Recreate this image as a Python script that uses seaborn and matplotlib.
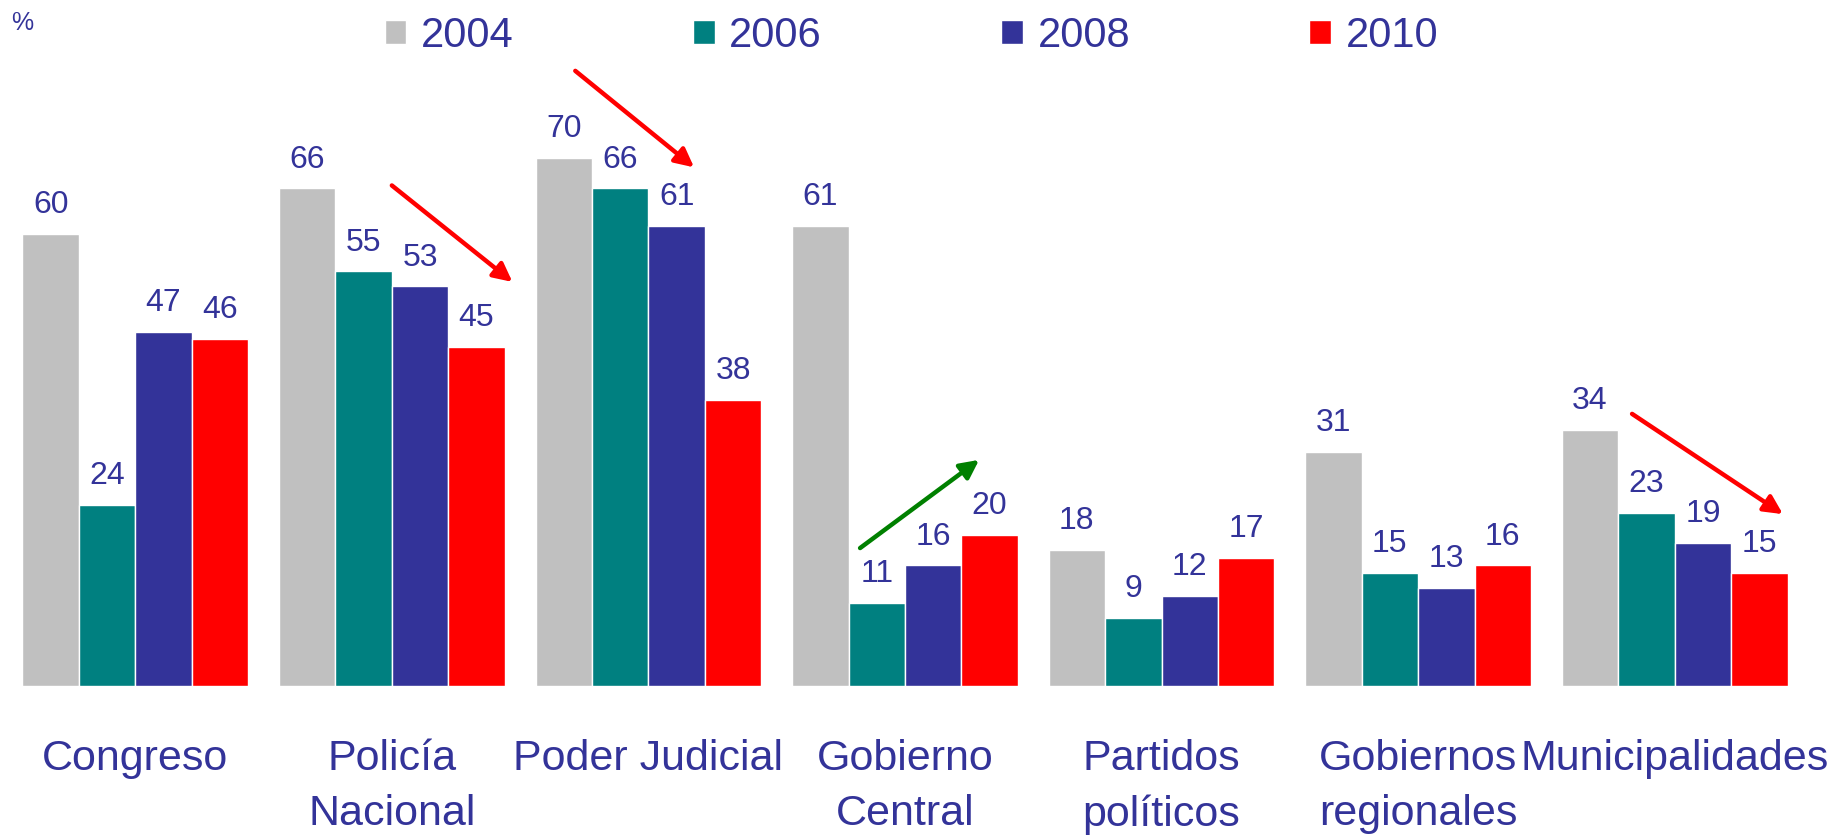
import matplotlib
matplotlib.use("Agg")
import matplotlib.pyplot as plt
import seaborn as sns
import pandas as pd

# data
categories = ["Congreso", "Policía\nNacional", "Poder Judicial", "Gobierno\nCentral",
              "Partidos\npolíticos", "Gobiernos\nregionales", "Municipalidades"]
years = ["2004", "2006", "2008", "2010"]
v2004 = [60, 66, 70, 61, 18, 31, 34]
v2006 = [24, 55, 66, 11, 9, 15, 23]
v2008 = [47, 53, 61, 16, 12, 13, 19]
v2010 = [46, 45, 38, 20, 17, 16, 15]
colors = ["#C0C0C0", "#008080", "#333399", "#FF0000"]

# trend arrows (data coords: x0, y0, x1, y1, colour)
trend_arrows = [
    (1.00, 66.4, 1.47, 53.6, "#FF0000"),
    (1.715, 81.6, 2.178, 68.8, "#FF0000"),
    (2.825, 18.3, 3.289, 30.0, "#008000"),
    (5.834, 36.1, 6.422, 22.8, "#FF0000"),
]

text_color = "#333399"

rows = []
for yr, vals in zip(years, [v2004, v2006, v2008, v2010]):
    for cat, v in zip(categories, vals):
        rows.append({"cat": cat, "year": yr, "value": v})
df = pd.DataFrame(rows)

sns.set_style("white")
plt.rcParams["font.family"] = ["Liberation Sans", "DejaVu Sans"]

fig = plt.figure(figsize=(18.45, 8.36), dpi=100)
ax = fig.add_axes([0.0038, 0.1794, 0.9734, 0.7665])

sns.barplot(data=df, x="cat", y="value", hue="year", palette=colors, saturation=1,
            width=0.88, edgecolor="white", linewidth=1, ax=ax, errorbar=None)

ax.set_ylim(0, 85)
ax.set_xlim(-0.5, 6.5)
ax.set_xlabel("")
ax.set_ylabel("")
ax.set_yticks([])
sns.despine(ax=ax, left=True, bottom=True)
ax.tick_params(axis="x", length=0, pad=38, labelsize=31, labelcolor=text_color)
for lbl in ax.get_xticklabels():
    lbl.set_linespacing(1.5)

for cont in ax.containers:
    ax.bar_label(cont, fmt="%d", padding=10, fontsize=23, color=text_color)

for x0, y0, x1, y1, c in trend_arrows:
    ax.annotate("", xy=(x1, y1), xytext=(x0, y0), annotation_clip=False,
                arrowprops=dict(arrowstyle="-|>", color=c, lw=3.2,
                                mutation_scale=28, shrinkA=0, shrinkB=0))

handles, labels = ax.get_legend_handles_labels()
ax.legend(handles, labels, loc="center", bbox_to_anchor=(0.494, 0.957),
          bbox_transform=fig.transFigure, ncol=4, frameon=False,
          fontsize=30, labelcolor=text_color, handlelength=0.52,
          handleheight=0.52, handletextpad=0.35, columnspacing=4.3)

fig.text(0.006, 0.973, "%", fontsize=18, color=text_color, va="center")

fig.savefig("out.png", dpi=100)
